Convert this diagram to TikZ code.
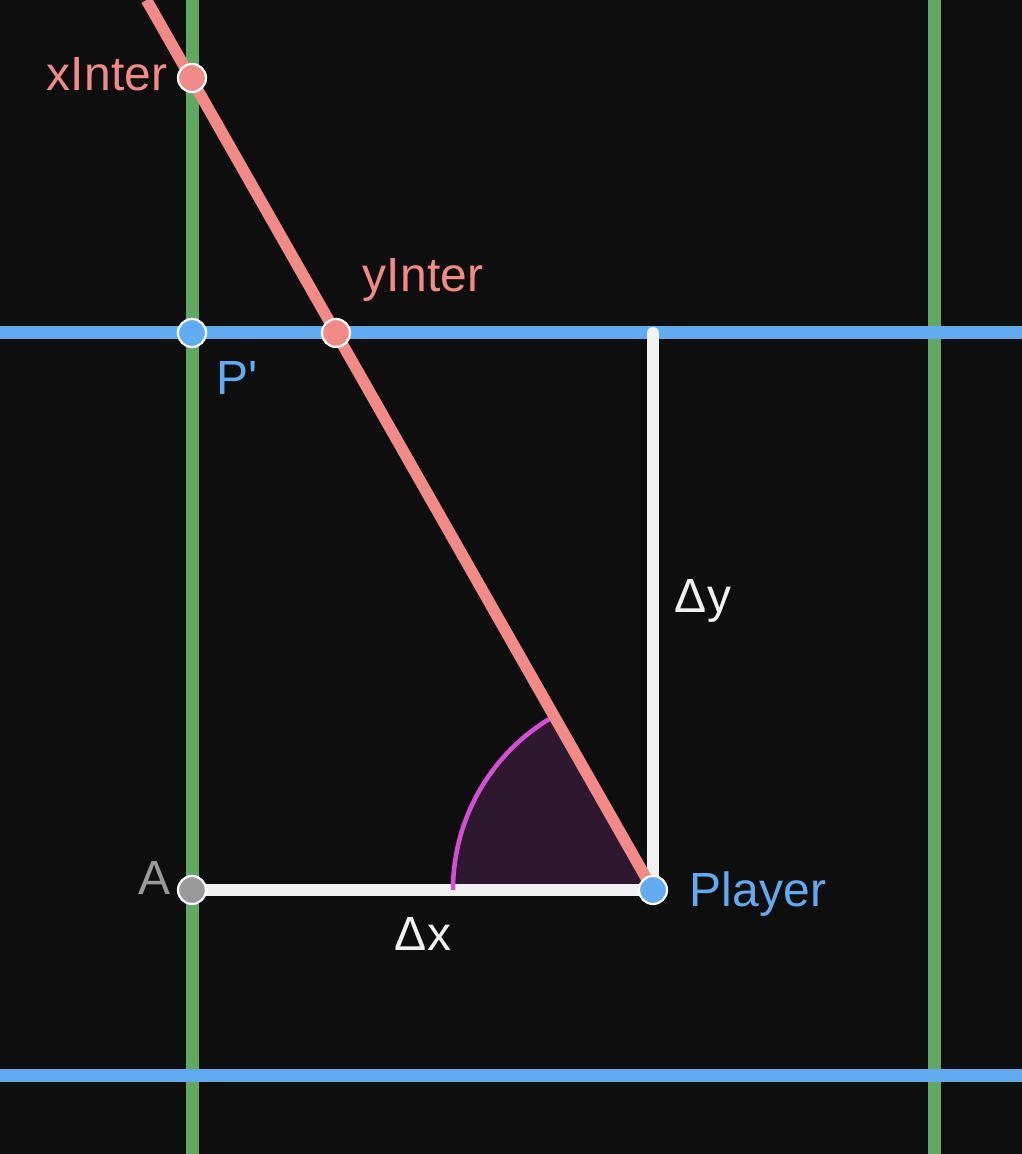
\documentclass[tikz,border=0pt]{standalone}
\usepackage{fontspec}
\setmainfont{Liberation Sans}
\usepackage{tikz}
\usetikzlibrary{positioning}

\definecolor{bgdark}{HTML}{0E0E0E}
\definecolor{gridgreen}{HTML}{62A865}
\definecolor{gridblue}{HTML}{62ABF1}
\definecolor{raysalmon}{HTML}{F28B88}
\definecolor{segwhite}{HTML}{F2F2F2}
\definecolor{pointgray}{HTML}{9A9A9A}
\definecolor{arcmagenta}{HTML}{D64ED8}
\definecolor{arcfill}{HTML}{2E1830}

\tikzset{
  gridv/.style={draw=gridgreen, line width=13pt},
  gridh/.style={draw=gridblue, line width=13pt},
  seg/.style={draw=segwhite, line width=12pt, line cap=round},
  raystyle/.style={draw=raysalmon, line width=11.5pt},
  pt/.style={circle, draw=white, line width=2.2pt, minimum size=28pt, inner sep=0pt},
  lbl/.style={font=\fontsize{48}{52}\selectfont, inner sep=0pt},
}

\begin{document}
\begin{tikzpicture}[x=1pt, y=1pt]
\useasboundingbox (0,0) rectangle (1022,1154);
\fill[bgdark] (0,0) rectangle (1022,1154);

% grid lines
\draw[gridv] (192,0) -- (192,1154);
\draw[gridv] (934,0) -- (934,1154);
\draw[gridh] (0,821) -- (1022,821);
\draw[gridh] (0,78) -- (1022,78);

% named points
\coordinate (player) at (653,264);
\coordinate (pointA) at (192,264);
\coordinate (pprime) at (192,821);
\coordinate (yinter) at (336,821);
\coordinate (xinter) at (192,1076);
\coordinate (dytop) at (653,821);
\coordinate (raytop) at (146.5,1154);

% angle
\fill[arcfill] (player) -- ++(180:200) arc[start angle=180, end angle=119.64, radius=200] -- cycle;

% delta sides
\draw[seg] (pointA) -- (player);
\draw[seg] (dytop) -- (player);

\draw[arcmagenta, line width=4.5pt] ([shift={(180:200)}]player) arc[start angle=180, end angle=119.64, radius=200];

% ray
\draw[raystyle] (player) -- (raytop);

% dots
\node[pt, fill=raysalmon] (xinterdot) at (xinter) {};
\node[pt, fill=raysalmon] (yinterdot) at (yinter) {};
\node[pt, fill=gridblue] (pprimedot) at (pprime) {};
\node[pt, fill=pointgray] (pointAdot) at (pointA) {};
\node[pt, fill=gridblue] (playerdot) at (player) {};

% labels
\node[lbl, text=raysalmon] (xinterlbl) at (107,1080) {xInter};
\node[lbl, text=raysalmon] (yinterlbl) at (423,874) {yInter};
\node[lbl, text=gridblue] (pprimelbl) at (237,776) {P\textquotesingle};
\node[lbl, text=segwhite] (dylbl) at (703,553) {Δy};
\node[lbl, text=segwhite] (dxlbl) at (423,220) {Δx};
\node[lbl, text=pointgray] (pointAlbl) at (155,276) {A};
\node[lbl, text=gridblue] (playerlbl) at (758,260) {Player};
\end{tikzpicture}
\end{document}
